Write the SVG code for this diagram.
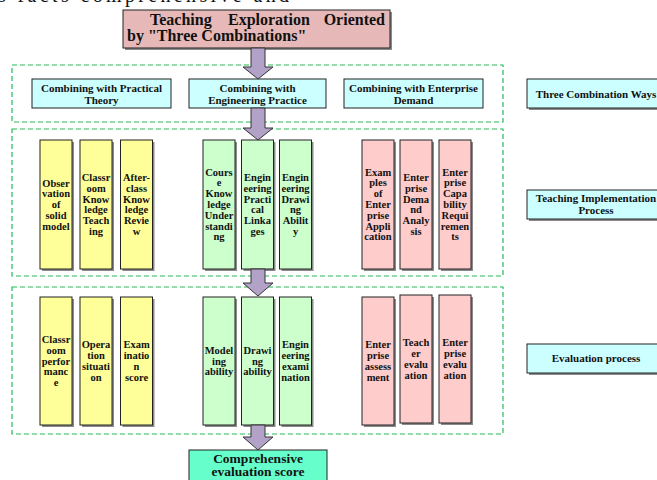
<svg xmlns="http://www.w3.org/2000/svg" width="657" height="480" viewBox="0 0 657 480">
<style>
text{font-family:"Liberation Serif","Times New Roman",serif;font-weight:bold;fill:#111;text-anchor:middle}
.page{font-weight:normal;text-anchor:start;font-size:20px}
.t{font-size:16px;text-anchor:start}
.h{font-size:11px}
.c{font-size:10.5px}
.cmp{font-size:13.5px}
.box{stroke:#222;stroke-width:1}
.sh{fill:#8a8a8a}
.title{fill:#e6b9b8}
.cyan{fill:#ccffff}
.yel{fill:#ffff99}
.grn{fill:#ccffcc}
.pnk{fill:#ffcccc}
.aqua{fill:#66ffcc}
.dash{fill:none;stroke:#22bb55;stroke-width:1.2;stroke-dasharray:5 3}
.arr{fill:#b3a2c7;stroke:#333;stroke-width:1}
</style>

<text class="page" x="-2" y="2" textLength="291" lengthAdjust="spacing">s facts comprehensive and</text>

<g id="groups">
<rect class="dash" x="12" y="65" width="491" height="57"/>
<rect class="dash" x="12" y="129" width="491" height="147"/>
<rect class="dash" x="12" y="287" width="491" height="147"/>
</g>

<g id="title">
<rect class="sh" x="125" y="12" width="267" height="38"/>
<rect class="box title" x="123" y="10" width="267" height="38"/>
<text class="t" x="150" y="25">Teaching</text>
<text class="t" x="228" y="25">Exploration</text>
<text class="t" x="385" y="25" style="text-anchor:end">Oriented</text>
<text class="t" x="127" y="41">by "Three Combinations"</text>
</g>

<g id="ways-theory">
<rect class="box cyan" x="32" y="79" width="139" height="29"/>
<text class="h" x="101.5" y="91.5">Combining with Practical</text>
<text class="h" x="101.5" y="104">Theory</text>
</g>
<g id="ways-engineering">
<rect class="box cyan" x="189" y="79" width="137" height="29"/>
<text class="h" x="257.5" y="91.5">Combining with</text>
<text class="h" x="257.5" y="104">Engineering Practice</text>
</g>
<g id="ways-enterprise">
<rect class="box cyan" x="344" y="79" width="139" height="29"/>
<text class="h" x="413.5" y="91.5">Combining with Enterprise</text>
<text class="h" x="413.5" y="104">Demand</text>
</g>
<g id="label-ways">
<rect class="sh" x="529" y="81" width="140" height="29"/>
<rect class="box cyan" x="527" y="79" width="140" height="29"/>
<text class="h" x="596" y="97.5">Three Combination Ways</text>
</g>
<g id="label-teaching">
<rect class="sh" x="529" y="192" width="140" height="29"/>
<rect class="box cyan" x="527" y="190" width="140" height="29"/>
<text class="h" x="596" y="201.5">Teaching Implementation</text>
<text class="h" x="596" y="214">Process</text>
</g>
<g id="label-evaluation">
<rect class="sh" x="529" y="346" width="140" height="29"/>
<rect class="box cyan" x="527" y="344" width="140" height="29"/>
<text class="h" x="596" y="362">Evaluation process</text>
</g>

<!-- Row 2: teaching implementation -->
<g id="t-observation">
<rect class="sh" x="42" y="142" width="32" height="129"/>
<rect class="box yel" x="40" y="140" width="32" height="129"/>
<text class="c" y="186.5"><tspan x="56">Obser</tspan><tspan x="56" dy="10.8">vation</tspan><tspan x="56" dy="10.8">of</tspan><tspan x="56" dy="10.8">solid</tspan><tspan x="56" dy="10.8">model</tspan></text>
</g>
<g id="t-classroom">
<rect class="sh" x="82" y="142" width="32" height="129"/>
<rect class="box yel" x="80" y="140" width="32" height="129"/>
<text class="c" y="181"><tspan x="96">Classr</tspan><tspan x="96" dy="10.8">oom</tspan><tspan x="96" dy="10.8">Know</tspan><tspan x="96" dy="10.8">ledge</tspan><tspan x="96" dy="10.8">Teach</tspan><tspan x="96" dy="10.8">ing</tspan></text>
</g>
<g id="t-afterclass">
<rect class="sh" x="122.5" y="142" width="32" height="129"/>
<rect class="box yel" x="120.5" y="140" width="32" height="129"/>
<text class="c" y="181"><tspan x="136.5">After-</tspan><tspan x="136.5" dy="10.8">class</tspan><tspan x="136.5" dy="10.8">Know</tspan><tspan x="136.5" dy="10.8">ledge</tspan><tspan x="136.5" dy="10.8">Revie</tspan><tspan x="136.5" dy="10.8">w</tspan></text>
</g>
<g id="t-course">
<rect class="sh" x="205" y="142" width="32" height="129"/>
<rect class="box grn" x="203" y="140" width="32" height="129"/>
<text class="c" y="175.6"><tspan x="219">Cours</tspan><tspan x="219" dy="10.8">e</tspan><tspan x="219" dy="10.8">Know</tspan><tspan x="219" dy="10.8">ledge</tspan><tspan x="219" dy="10.8">Under</tspan><tspan x="219" dy="10.8">standi</tspan><tspan x="219" dy="10.8">ng</tspan></text>
</g>
<g id="t-linkages">
<rect class="sh" x="243.5" y="142" width="32" height="129"/>
<rect class="box grn" x="241.5" y="140" width="32" height="129"/>
<text class="c" y="181"><tspan x="257.5">Engin</tspan><tspan x="257.5" dy="10.8">eering</tspan><tspan x="257.5" dy="10.8">Practi</tspan><tspan x="257.5" dy="10.8">cal</tspan><tspan x="257.5" dy="10.8">Linka</tspan><tspan x="257.5" dy="10.8">ges</tspan></text>
</g>
<g id="t-drawing">
<rect class="sh" x="281.5" y="142" width="32" height="129"/>
<rect class="box grn" x="279.5" y="140" width="32" height="129"/>
<text class="c" y="181"><tspan x="295.5">Engin</tspan><tspan x="295.5" dy="10.8">eering</tspan><tspan x="295.5" dy="10.8">Drawi</tspan><tspan x="295.5" dy="10.8">ng</tspan><tspan x="295.5" dy="10.8">Abilit</tspan><tspan x="295.5" dy="10.8">y</tspan></text>
</g>
<g id="t-examples">
<rect class="sh" x="364" y="142" width="32" height="129"/>
<rect class="box pnk" x="362" y="140" width="32" height="129"/>
<text class="c" y="175.6"><tspan x="378">Exam</tspan><tspan x="378" dy="10.8">ples</tspan><tspan x="378" dy="10.8">of</tspan><tspan x="378" dy="10.8">Enter</tspan><tspan x="378" dy="10.8">prise</tspan><tspan x="378" dy="10.8">Appli</tspan><tspan x="378" dy="10.8">cation</tspan></text>
</g>
<g id="t-demand">
<rect class="sh" x="402" y="142" width="32" height="129"/>
<rect class="box pnk" x="400" y="140" width="32" height="129"/>
<text class="c" y="181"><tspan x="416">Enter</tspan><tspan x="416" dy="10.8">prise</tspan><tspan x="416" dy="10.8">Dema</tspan><tspan x="416" dy="10.8">nd</tspan><tspan x="416" dy="10.8">Analy</tspan><tspan x="416" dy="10.8">sis</tspan></text>
</g>
<g id="t-capability">
<rect class="sh" x="441" y="142" width="32" height="129"/>
<rect class="box pnk" x="439" y="140" width="32" height="129"/>
<text class="c" y="175.6"><tspan x="455">Enter</tspan><tspan x="455" dy="10.8">prise</tspan><tspan x="455" dy="10.8">Capa</tspan><tspan x="455" dy="10.8">bility</tspan><tspan x="455" dy="10.8">Requi</tspan><tspan x="455" dy="10.8">remen</tspan><tspan x="455" dy="10.8">ts</tspan></text>
</g>

<!-- Row 3: evaluation -->
<g id="e-classroom">
<rect class="sh" x="42" y="299" width="32" height="128"/>
<rect class="box yel" x="40" y="297" width="32" height="128"/>
<text class="c" y="343"><tspan x="56">Classr</tspan><tspan x="56" dy="10.8">oom</tspan><tspan x="56" dy="10.8">perfor</tspan><tspan x="56" dy="10.8">manc</tspan><tspan x="56" dy="10.8">e</tspan></text>
</g>
<g id="e-operation">
<rect class="sh" x="82" y="299" width="32" height="128"/>
<rect class="box yel" x="80" y="297" width="32" height="128"/>
<text class="c" y="348.3"><tspan x="96">Opera</tspan><tspan x="96" dy="10.8">tion</tspan><tspan x="96" dy="10.8">situati</tspan><tspan x="96" dy="10.8">on</tspan></text>
</g>
<g id="e-exam">
<rect class="sh" x="122.5" y="299" width="32" height="128"/>
<rect class="box yel" x="120.5" y="297" width="32" height="128"/>
<text class="c" y="348.3"><tspan x="136.5">Exam</tspan><tspan x="136.5" dy="10.8">inatio</tspan><tspan x="136.5" dy="10.8">n</tspan><tspan x="136.5" dy="10.8">score</tspan></text>
</g>
<g id="e-modeling">
<rect class="sh" x="205" y="299" width="32" height="128"/>
<rect class="box grn" x="203" y="297" width="32" height="128"/>
<text class="c" y="353.7"><tspan x="219">Model</tspan><tspan x="219" dy="10.8">ing</tspan><tspan x="219" dy="10.8">ability</tspan></text>
</g>
<g id="e-drawing">
<rect class="sh" x="243.5" y="299" width="32" height="128"/>
<rect class="box grn" x="241.5" y="297" width="32" height="128"/>
<text class="c" y="353.7"><tspan x="257.5">Drawi</tspan><tspan x="257.5" dy="10.8">ng</tspan><tspan x="257.5" dy="10.8">ability</tspan></text>
</g>
<g id="e-engineering">
<rect class="sh" x="281.5" y="299" width="32" height="128"/>
<rect class="box grn" x="279.5" y="297" width="32" height="128"/>
<text class="c" y="348.3"><tspan x="295.5">Engin</tspan><tspan x="295.5" dy="10.8">eering</tspan><tspan x="295.5" dy="10.8">exami</tspan><tspan x="295.5" dy="10.8">nation</tspan></text>
</g>
<g id="e-enterprise">
<rect class="sh" x="364" y="299" width="32" height="128"/>
<rect class="box pnk" x="362" y="297" width="32" height="128"/>
<text class="c" y="348.3"><tspan x="378">Enter</tspan><tspan x="378" dy="10.8">prise</tspan><tspan x="378" dy="10.8">assess</tspan><tspan x="378" dy="10.8">ment</tspan></text>
</g>
<g id="e-teacher">
<rect class="sh" x="402" y="297" width="32" height="128"/>
<rect class="box pnk" x="400" y="295" width="32" height="128"/>
<text class="c" y="346.3"><tspan x="416">Teach</tspan><tspan x="416" dy="10.8">er</tspan><tspan x="416" dy="10.8">evalu</tspan><tspan x="416" dy="10.8">ation</tspan></text>
</g>
<g id="e-enterprise-eval">
<rect class="sh" x="441" y="297" width="32" height="128"/>
<rect class="box pnk" x="439" y="295" width="32" height="128"/>
<text class="c" y="346.3"><tspan x="455">Enter</tspan><tspan x="455" dy="10.8">prise</tspan><tspan x="455" dy="10.8">evalu</tspan><tspan x="455" dy="10.8">ation</tspan></text>
</g>

<g id="comprehensive">
<rect class="box aqua" x="189" y="450" width="138" height="36"/>
<text class="cmp" x="258" y="462.5">Comprehensive</text>
<text class="cmp" x="258" y="476">evaluation score</text>
</g>

<g id="connectors">
<path class="arr" d="M251,48 H265 V67 H273 L258,79 L243,67 H251 Z"/>
<path class="arr" d="M251,108 H265 V128 H273 L258,140 L243,128 H251 Z"/>
<path class="arr" d="M251,269 H265 V283 H273 L258,296 L243,283 H251 Z"/>
<path class="arr" d="M251,425 H265 V437 H273 L258,450 L243,437 H251 Z"/>
</g>
</svg>
